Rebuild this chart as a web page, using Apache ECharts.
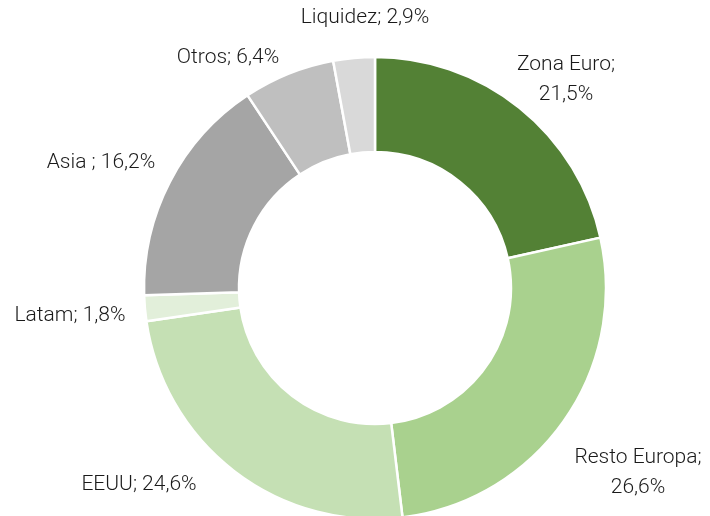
<!DOCTYPE html>
<html>
<head>
<meta charset="utf-8">
<script src="https://cdn.jsdelivr.net/npm/echarts@6/dist/echarts.min.js"></script>
<style>
  html, body { margin: 0; padding: 0; background: #fff; }
  #chart { width: 710px; height: 516px; }
</style>
</head>
<body>
<div id="chart"></div>
<script>
// distribución geográfica (%)
const regions = ['Zona Euro', 'Resto Europa', 'EEUU', 'Latam', 'Asia ', 'Otros', 'Liquidez'];
const shares = [21.5, 26.6, 24.6, 1.8, 16.2, 6.4, 2.9];
const colors = ['#538135', '#A9D18E', '#C5E0B4', '#E2EFDA', '#A5A5A5', '#BFBFBF', '#D9D9D9'];
// etiquetas a dos líneas como en el original
const twoLine = ['Zona Euro', 'Resto Europa'];
// centro de cada etiqueta (colocadas a mano, como en Excel)
const labelAnchors = [[566, 80], [638, 473], [139, 485], [70, 316], [101, 163], [228, 58], [365, 18]];

const fmt = (v) => v.toFixed(1).replace('.', ',') + '%';

const chart = echarts.init(document.getElementById('chart'));

chart.setOption({
  animation: false,
  series: [{
    type: 'pie',
    center: [375, 288],
    radius: [136, 231],
    startAngle: 90,
    clockwise: true,
    avoidLabelOverlap: false,
    itemStyle: { borderColor: '#fff', borderWidth: 2.5 },
    label: {
      show: true,
      position: 'outside',
      fontFamily: 'Roboto, "DejaVu Sans", sans-serif',
      fontWeight: 300,
      fontSize: 21,
      lineHeight: 30,
      align: 'center',
      color: '#1a1a1a',
      formatter: (p) => twoLine.includes(p.name)
        ? p.name + ';\n' + fmt(p.value)
        : p.name + '; ' + fmt(p.value)
    },
    labelLine: { show: false },
    labelLayout: (params) => ({
      x: labelAnchors[params.dataIndex][0],
      y: labelAnchors[params.dataIndex][1],
      align: 'center',
      verticalAlign: 'middle',
      hideOverlap: false,
      moveOverlap: null
    }),
    data: regions.map((name, i) => ({
      name: name,
      value: shares[i],
      itemStyle: { color: colors[i] }
    }))
  }]
});
</script>
</body>
</html>
